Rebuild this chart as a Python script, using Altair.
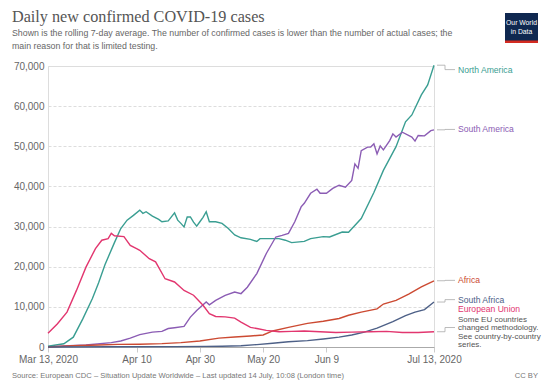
import altair as alt
import pandas as pd

# ---------------- data (day offsets from Mar 13, 2020) ----------------
na_days = [0, 5, 8, 11, 14, 16, 18, 21, 23, 25, 27, 29, 30, 31, 33, 35, 36, 38, 40, 41, 42, 43, 44, 45, 46, 47,
           48, 49, 50, 51, 53, 55, 57, 59, 61, 64, 66, 67, 70, 73, 75, 77, 81, 83, 87, 89, 93, 95, 99, 103,
           106, 110, 113, 115, 118, 120, 122]
na_vals = [200, 800, 2450, 7000, 12000, 16000, 20500, 26000, 29500, 31600, 32800, 34100, 33300, 33700, 32600,
           31800, 31200, 31400, 33400, 31600, 30800, 29900, 32400, 32400, 31100, 30100, 31200, 32300, 33700,
           31200, 31200, 30800, 29500, 27900, 27200, 26800, 26300, 27000, 27000, 27000, 26600, 26000, 26300,
           27000, 27500, 27400, 28650, 28600, 32000, 38500, 44000, 49900, 56100, 57800, 62800, 65300, 70200]

sa_days = [0, 5, 12, 20, 23, 26, 29, 33, 36, 38, 40, 43, 45, 47, 50, 51, 53, 56, 59, 61, 63, 66, 69, 72, 74,
           76, 78, 80, 81, 83, 85, 86, 88, 90, 92, 94, 96, 97, 98, 99, 101, 102, 103, 104, 105, 106, 108, 109,
           110, 112, 115, 116, 117, 119, 121, 122]
sa_vals = [0, 250, 500, 1080, 1500, 2200, 3100, 3700, 3900, 4600, 4800, 5150, 7450, 9100, 11200, 10500, 11600,
           12850, 13700, 13300, 14900, 18300, 23300, 27400, 27800, 28300, 31200, 34900, 35800, 38300, 39300,
           38300, 38300, 39500, 40300, 39800, 41500, 45600, 44500, 48900, 49800, 49800, 50600, 48100, 50100,
           49100, 51400, 53100, 52300, 53500, 52300, 51300, 52700, 52600, 53900, 54100]

af_days = [0, 8, 16, 22, 29, 36, 42, 48, 54, 59, 64, 68, 71, 76, 82, 87, 92, 95, 99, 104, 106, 110, 114, 118, 122]
af_vals = [0, 300, 500, 650, 700, 830, 1080, 1500, 2200, 2500, 2750, 3000, 4000, 4900, 5900, 6400, 7100, 7900,
           8700, 9500, 10700, 11600, 13200, 15000, 16500]

za_days = [0, 20, 40, 50, 55, 61, 66, 71, 76, 82, 87, 92, 96, 100, 104, 109, 113, 116, 119, 122]
za_vals = [0, 50, 100, 150, 200, 300, 600, 950, 1300, 1600, 2000, 2450, 3000, 3700, 4700, 6300, 7800, 8700,
           9300, 11200]

eu_days = [0, 3, 6, 9, 12, 15, 17, 19, 20, 21, 24, 26, 28, 29, 32, 34, 37, 40, 43, 46, 49, 51, 53, 56, 59, 61,
           64, 66, 69, 73, 77, 81, 86, 91, 96, 102, 107, 112, 117, 122]
eu_vals = [3450, 5800, 8700, 14100, 19900, 24500, 26600, 27000, 28300, 27700, 27500, 25300, 24500, 24100,
           22000, 21200, 17000, 16200, 14100, 12900, 10400, 8300, 7600, 7500, 7200, 6200, 4900, 4600, 4150,
           3800, 3900, 4000, 3800, 3600, 3700, 3800, 3900, 3600, 3600, 3800]

series_names = ["North America", "South America", "Africa", "South Africa", "European Union"]
series_colors = ["#3a9e92", "#8b5cb4", "#cc4a32", "#4d6087", "#e2366f"]
label_values = [69100, 54200, 16600, 11800, 4850]   # where each end label sits (y units)

tick_days = [0, 28, 48, 68, 88, 122]
tick_labels = ["Mar 13, 2020", "Apr 10", "Apr 30", "May 20", "Jun 9", "Jul 13, 2020"]
y_ticks = [0, 10000, 20000, 30000, 40000, 50000, 60000, 70000]

title = "Daily new confirmed COVID-19 cases"
subtitle1 = "Shown is the rolling 7-day average. The number of confirmed cases is lower than the number of actual cases; the"
subtitle2 = "main reason for that is limited testing."
footer = "Source: European CDC \u2013 Situation Update Worldwide \u2013 Last updated 14 July, 10:08 (London time)"
eu_note = ["Some EU countries", "changed methodology.", "See country-by-country", "series."]

# ---------------- tables ----------------
rows = []
for name, d, v in [("North America", na_days, na_vals), ("South America", sa_days, sa_vals),
                   ("Africa", af_days, af_vals), ("South Africa", za_days, za_vals),
                   ("European Union", eu_days, eu_vals)]:
    for dd, vv in zip(d, v):
        rows.append({"series": name, "day": dd, "value": vv})
df = pd.DataFrame(rows)

ends = {"North America": na_vals[-1], "South America": sa_vals[-1], "Africa": af_vals[-1],
        "South Africa": za_vals[-1], "European Union": eu_vals[-1]}
lab = pd.DataFrame({"series": series_names,
                    "end": [ends[s] for s in series_names],
                    "label": label_values})

W, H = 386, 281
FONT = "Liberation Sans"
color_scale = alt.Scale(domain=series_names, range=series_colors)

label_expr = ""
for d, t in zip(tick_days, tick_labels):
    label_expr += f"datum.value == {d} ? '{t}' : "
label_expr += "''"

xs = alt.Scale(domain=[0, 122], nice=False, zero=False)
ys = alt.Scale(domain=[0, 70000], nice=False)

lines = alt.Chart(df).mark_line(strokeWidth=1.4).encode(
    x=alt.X("day:Q", scale=xs, title=None,
            axis=alt.Axis(values=tick_days, labelExpr=label_expr, grid=False, domainColor="#aaaaaa",
                          tickColor="#cccccc", tickSize=5, labelColor="#666666", labelFontSize=10,
                          labelFont=FONT, labelPadding=2, labelOverlap=False, labelFlush=False)),
    y=alt.Y("value:Q", scale=ys, title=None,
            axis=alt.Axis(values=y_ticks, format=",.0f", grid=True, gridColor="#dddddd", gridDash=[3, 2],
                          domain=False, ticks=False, labelColor="#666666", labelFontSize=10,
                          labelFont=FONT, labelPadding=4)),
    color=alt.Color("series:N", scale=color_scale, legend=None),
    detail="series:N",
)

conn_col = "#aaaaaa"
c1 = alt.Chart(lab).mark_rule(color=conn_col, strokeWidth=0.8).encode(
    x=alt.value(W + 3), x2=alt.value(W + 11), y=alt.Y("end:Q", scale=ys))
c2 = alt.Chart(lab).mark_rule(color=conn_col, strokeWidth=0.8).encode(
    x=alt.value(W + 11), y=alt.Y("end:Q", scale=ys), y2="label:Q")
c3 = alt.Chart(lab).mark_rule(color=conn_col, strokeWidth=0.8).encode(
    x=alt.value(W + 11), x2=alt.value(W + 21), y=alt.Y("label:Q", scale=ys))

lab_text = lab.copy()
lab_text["shown"] = lab_text["label"]
lab_text.loc[lab_text.series == "European Union", "shown"] = 4850 + 4650
labels = alt.Chart(lab_text).mark_text(align="left", baseline="middle", fontSize=8.6, font=FONT).encode(
    x=alt.value(W + 24), y=alt.Y("shown:Q", scale=ys), text="series:N",
    color=alt.Color("series:N", scale=color_scale, legend=None))

one = pd.DataFrame({"a": [0]})
note = alt.Chart(one).mark_text(align="left", baseline="middle", fontSize=8.0, font=FONT, color="#555555",
                                lineBreak="\n", lineHeight=8.6).encode(
    x=alt.value(W + 24), y=alt.value(253.5), text=alt.value("\n".join(eu_note)))

def txt(s, x, y, size, color, font=FONT, align="left", baseline="alphabetic", weight="normal"):
    return alt.Chart(one).mark_text(align=align, baseline=baseline, fontSize=size, font=font, color=color,
                                    fontWeight=weight).encode(
        x=alt.value(x), y=alt.value(y), text=alt.value(s))

t_title = txt(title, -36, -44.5, 16.2, "#555555", font="Liberation Serif")
t_sub1 = txt(subtitle1, -36, -30.5, 8.8, "#666666")
t_sub2 = txt(subtitle2, -36, -17.5, 8.8, "#666666")
t_foot = txt(footer, -36, 312, 7.6, "#777777")
t_cc = txt("CC BY", 490, 312, 7.6, "#777777", align="right")

logo_box = alt.Chart(one).mark_rect(color="#0f2850").encode(
    x=alt.value(457), x2=alt.value(490), y=alt.value(-53), y2=alt.value(-25))
logo_bar = alt.Chart(one).mark_rect(color="#d42b21").encode(
    x=alt.value(457), x2=alt.value(490), y=alt.value(-25.5), y2=alt.value(-23))
logo_t1 = txt("Our World", 473.5, -43, 6.8, "white", align="center", baseline="middle")
logo_t2 = txt("in Data", 473.5, -34, 6.8, "white", align="center", baseline="middle")

chart = alt.layer(
    lines, c1, c2, c3, labels, note, t_title, t_sub1, t_sub2, t_foot, t_cc,
    logo_box, logo_bar, logo_t1, logo_t2
).properties(
    width=W, height=H,
    autosize=alt.AutoSizeParams(type="none"),
    padding={"left": 40, "top": 58, "right": 108, "bottom": 33},
).configure_view(stroke=None).configure(background="white")

chart.save("out.html", embed_options={"renderer": "svg", "actions": False})
